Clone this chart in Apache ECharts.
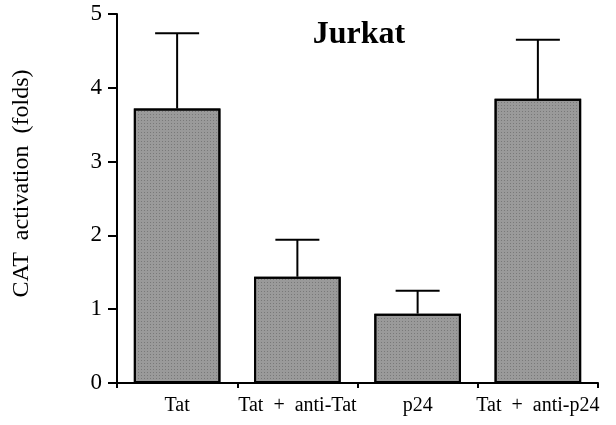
<!DOCTYPE html>
<html>
<head>
<meta charset="utf-8">
<script src="https://cdn.jsdelivr.net/npm/echarts@6/dist/echarts.min.js"></script>
<style>
  html, body { margin: 0; padding: 0; background: #fff; }
  #main { width: 616px; height: 425px; }
</style>
</head>
<body>
<div id="main"></div>
<script>
// values
const categories = ['Tat', 'Tat  +  anti-Tat', 'p24', 'Tat  +  anti-p24'];
const means = [3.72, 1.44, 0.94, 3.85];
const errUp = [1.02, 0.50, 0.31, 0.80];
const yTicks = [0, 1, 2, 3, 4, 5];

const serif = '"Liberation Serif", "DejaVu Serif", serif';

var chart = echarts.init(document.getElementById('main'));

var option = {
  animation: false,
  backgroundColor: '#fff',
  title: {
    text: 'Jurkat',
    left: 354,
    top: 14,
    textAlign: 'center',
    textStyle: { fontFamily: serif, fontWeight: 'bold', fontSize: 32, color: '#000' }
  },
  grid: { left: 117, right: 18, top: 14, bottom: 42 },
  xAxis: {
    type: 'category',
    data: categories,
    boundaryGap: true,
    axisLine: { lineStyle: { color: '#000', width: 2 } },
    axisTick: { show: true, alignWithLabel: false, length: 5, lineStyle: { color: '#000', width: 2 } },
    axisLabel: { color: '#000', fontFamily: serif, fontSize: 20, margin: 13, interval: 0 }
  },
  yAxis: {
    type: 'value',
    min: yTicks[0],
    max: yTicks[yTicks.length - 1],
    interval: 1,
    name: 'CAT  activation  (folds)',
    nameLocation: 'middle',
    nameGap: 83,
    nameTextStyle: { color: '#000', fontFamily: serif, fontSize: 24, padding: [0, 0, 0, 30] },
    splitLine: { show: false },
    axisLine: { show: true, lineStyle: { color: '#000', width: 2 } },
    axisTick: { show: true, length: 9, lineStyle: { color: '#000', width: 2 } },
    axisLabel: { color: '#000', fontFamily: serif, fontSize: 23, margin: 15 }
  },
  series: [
    {
      type: 'bar',
      data: means,
      barWidth: '72%',
      itemStyle: {
        color: '#9a9a9a',
        borderColor: '#000',
        borderWidth: 2,
        decal: {
          symbol: 'rect',
          symbolSize: 1,
          color: 'rgba(60,60,60,0.35)',
          dashArrayX: [1, 2],
          dashArrayY: [1, 2],
          rotation: 0
        }
      },
      z: 2
    },
    {
      type: 'custom',
      data: means.map((m, i) => [i, m, m + errUp[i]]),
      renderItem: function (params, api) {
        var base = api.coord([api.value(0), api.value(1)]);
        var top = api.coord([api.value(0), api.value(2)]);
        var half = 22;
        var style = { stroke: '#000', lineWidth: 2 };
        return {
          type: 'group',
          children: [
            { type: 'line', shape: { x1: base[0], y1: base[1], x2: top[0], y2: top[1] }, style: style },
            { type: 'line', shape: { x1: top[0] - half, y1: top[1], x2: top[0] + half, y2: top[1] }, style: style }
          ]
        };
      },
      z: 3
    }
  ]
};

chart.setOption(option);
</script>
</body>
</html>
